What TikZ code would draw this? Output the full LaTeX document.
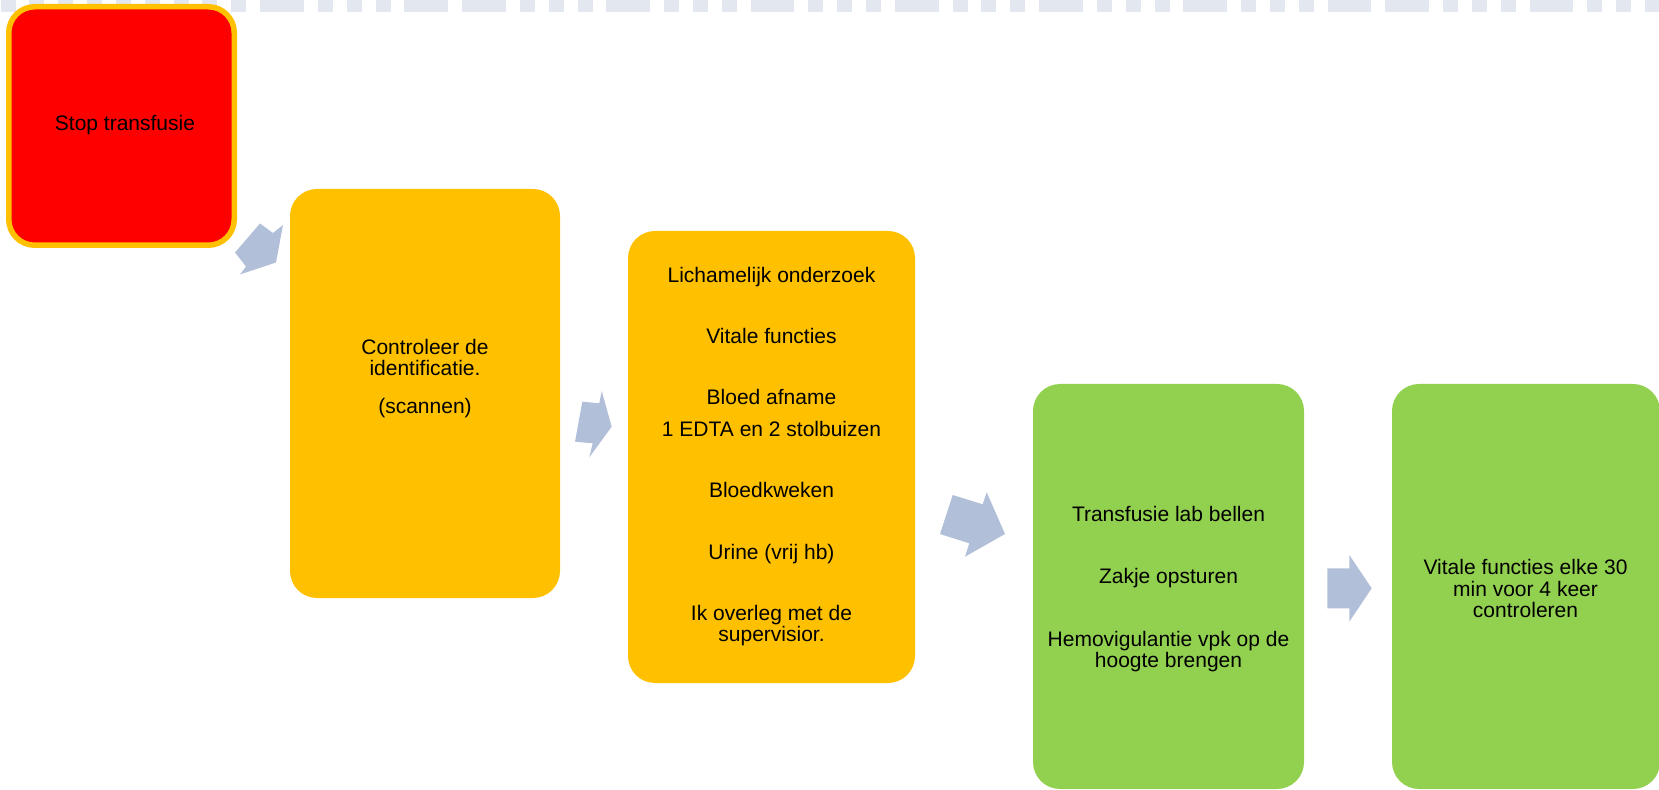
\documentclass[tikz,border=0pt]{standalone}
\usepackage{fontspec}
\setmainfont{Liberation Sans}
\definecolor{redbox}{RGB}{255,0,0}
\definecolor{orangebox}{RGB}{255,192,0}
\definecolor{greenbox}{RGB}{146,208,80}
\definecolor{arrowblue}{RGB}{178,191,217}
\definecolor{stripe}{RGB}{227,231,240}
\begin{document}
\begin{tikzpicture}[x=0.5pt,y=-0.5pt,
  box/.style={rounded corners=13.5pt, inner sep=0pt, outer sep=0pt, anchor=north west, rectangle},
  txt/.style={align=center, font=\fontsize{10.5}{10.6}\selectfont, inner sep=0pt, text=black},
  flowarrow/.style={fill=arrowblue}]
\useasboundingbox (0,0) rectangle (1659,790);
% top stripe
\foreach \k in {0,...,57} { \fill[stripe] ({\k*28.85+0.5},0) rectangle ({\k*28.85+15.5},12); }
\foreach \k in {9,14,16,21,26,31,36,41,46,48,53} { \fill[stripe] ({\k*28.85+15},0) rectangle ({\k*28.85+30},12); }
% boxes
\node[box, fill=redbox, draw=orangebox, line width=2.75pt, rounded corners=13pt,
      minimum width=112.75pt, minimum height=119.25pt] (b1) at (8.75,6.75) {};
\node[box, fill=orangebox, minimum width=135pt, minimum height=204.5pt] (b2) at (290,189) {};
\node[box, fill=orangebox, minimum width=143.5pt, minimum height=226pt] (b3) at (628,231) {};
\node[box, fill=greenbox, minimum width=135.5pt, minimum height=202.5pt] (b4) at (1033,384) {};
\node[box, fill=greenbox, minimum width=134pt, minimum height=202.5pt] (b5) at (1392,384) {};
% arrows
\fill[flowarrow] (260,223.5) -- (273,233) -- (283,225) -- (276,262.5) -- (240,274.5) -- (246,266.5) -- (235,252.5) -- cycle;
\fill[flowarrow] (582.3,401.7) -- (599.3,403.3) -- (601.7,391) -- (611.7,426.7) -- (589.3,457.3) -- (592.7,443.3) -- (575,441.7) -- cycle;
\fill[flowarrow] (952.7,495) -- (982.7,504.3) -- (986.7,492.3) -- (1005,534) -- (965,556.7) -- (969.3,543.3) -- (940,534) -- cycle;
\fill[flowarrow] (1327.3,568.3) -- (1349.3,568.3) -- (1349.3,555) -- (1371.7,588.3) -- (1349.3,621.7) -- (1349.3,608.3) -- (1327.3,608.3) -- cycle;
% texts
\node[txt] (t1) at (125,125) {Stop transfusie};
\node[txt] (t2) at (425,378.5) {Controleer de\\identificatie.\\[8.3pt](scannen)};
\node[txt] (t3) at (771.5,456.5) {Lichamelijk onderzoek\\[20pt]Vitale functies\\[20pt]Bloed afname\\[5.4pt]1 EDTA en 2 stolbuizen\\[20pt]Bloedkweken\\[20pt]Urine (vrij hb)\\[20pt]Ik overleg met de\\supervisior.};
\node[txt] (t4) at (1168.5,589) {Transfusie lab bellen\\[20.5pt]Zakje opsturen\\[20.5pt]Hemovigulantie vpk op de\\hoogte brengen};
\node[txt] (t5) at (1525.5,588.5) {Vitale functies elke 30\\min voor 4 keer\\controleren};
\end{tikzpicture}
\end{document}
